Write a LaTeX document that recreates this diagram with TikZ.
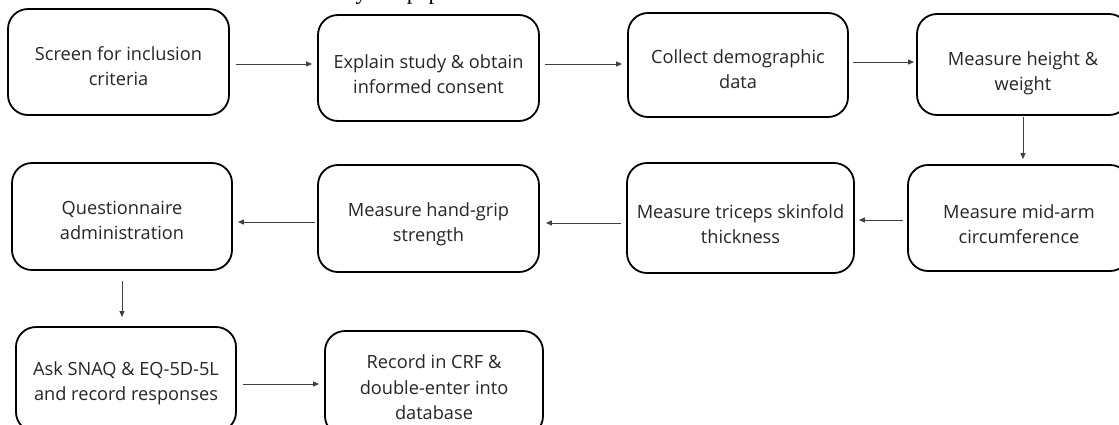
\documentclass[tikz,border=0pt]{standalone}
\usepackage{fontspec}
\setmainfont{Open Sans}
\newfontfamily\serifpart{Liberation Serif}
\usetikzlibrary{arrows.meta,calc}
\begin{document}
\begin{tikzpicture}[x=1pt,y=-1pt,
  stepbox/.style={draw=black, line width=1.8pt, rounded corners=20pt, inner sep=0pt},
  steptext/.style={align=center, inner sep=0pt, yshift=-4pt,
    font=\fontsize{18.2}{25.5}\selectfont, text=black!85},
  flow/.style={draw=black!75, line width=0.9pt, -{Triangle[length=6pt,width=5pt]}},
]
\useasboundingbox (0,0) rectangle (1119,424);
\fill[white] (0,0) rectangle (1119,424);

% partially visible line of text above the chart
\node[anchor=base west, inner sep=0pt, font=\serifpart\fontsize{23}{23}\selectfont] (toptext) at (344,-1) {by the paper};

% row 1
\node[stepbox, minimum width=221pt, minimum height=106pt,
  label={[steptext]center:{Screen for inclusion\\criteria}}] (b1) at (118.5,62) {};
\node[stepbox, minimum width=221pt, minimum height=106pt,
  label={[steptext, yshift=-2pt]center:{Explain study \& obtain\\informed consent}}] (b2) at (428.5,68) {};
\node[stepbox, minimum width=220pt, minimum height=104pt,
  label={[steptext]center:{Collect demographic\\data}}] (b3) at (738,65) {};
\node[stepbox, minimum width=212pt, minimum height=101pt,
  label={[steptext, yshift=-5pt]center:{Measure height \&\\weight}}] (b4) at (1023,64.5) {};

% row 2
\node[stepbox, minimum width=220pt, minimum height=107pt,
  label={[steptext]center:{Questionnaire\\administration}}] (q) at (122,216.5) {};
\node[stepbox, minimum width=221pt, minimum height=107pt,
  label={[steptext, yshift=-2pt]center:{Measure hand-grip\\strength}}] (hg) at (428.5,218.5) {};
\node[stepbox, minimum width=227pt, minimum height=110pt,
  label={[steptext, yshift=-2pt]center:{Measure triceps skinfold\\thickness}}] (tr) at (740.5,218) {};
\node[stepbox, minimum width=222pt, minimum height=106pt,
  label={[steptext, yshift=-2pt]center:{Measure mid-arm\\circumference}}] (ma) at (1019,218) {};

% row 3
\node[stepbox, minimum width=220pt, minimum height=105pt,
  label={[steptext]center:{Ask SNAQ \& EQ-5D-5L\\and record responses}}] (ask) at (126,379.5) {};
\node[stepbox, minimum width=218pt, minimum height=105pt,
  label={[steptext]center:{Record in CRF \&\\double-enter into\\database}}] (rec) at (434,383.5) {};

% connectors
\draw[flow, shorten <=6pt, shorten >=5pt] (b1.east |- 0,64) -- (b2.west |- 0,64);
\draw[flow, shorten <=5pt, shorten >=5pt] (b2.east |- 0,64) -- (b3.west |- 0,64);
\draw[flow, shorten <=4pt, shorten >=2pt] (b3.east |- 0,62) -- (b4.west |- 0,62);
\draw[flow, shorten <=1pt, shorten >=5pt] (b4.south) -- (b4.south |- ma.north);
\draw[flow, shorten <=4pt, shorten >=4pt] (ma.west |- 0,220) -- (tr.east |- 0,220);
\draw[flow, shorten <=5pt, shorten >=6pt] (tr.west |- 0,223) -- (hg.east |- 0,223);
\draw[flow, shorten <=2pt, shorten >=5pt] (hg.west |- 0,222) -- (q.east |- 0,222);
\draw[flow, shorten <=10pt, shorten >=9pt] (q.south) -- (q.south |- ask.north);
\draw[flow, shorten <=6pt, shorten >=5pt] (ask.east |- 0,384) -- (rec.west |- 0,384);
\end{tikzpicture}
\end{document}
